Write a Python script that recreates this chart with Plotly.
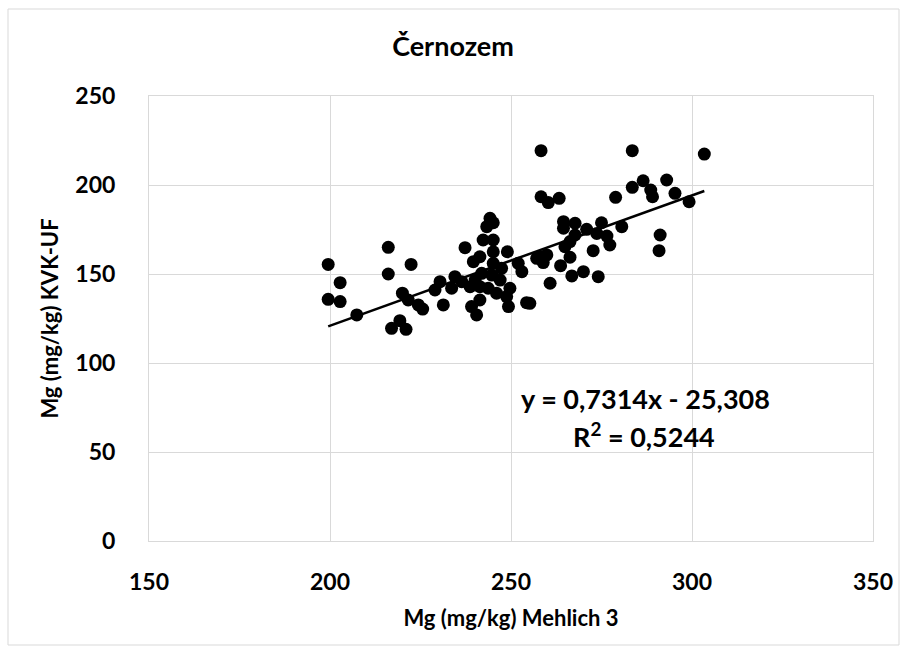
import plotly.graph_objects as go

# Data
mehlich3 = [199.5, 202.8, 199.5, 202.8, 207.4, 216.1, 216.1, 222.4, 217.0, 219.3,
            221.0, 220.0, 221.6, 224.4, 225.6,
            244.2, 245.1, 243.3, 242.3, 245.1, 237.3, 245.1, 249.0, 241.4, 239.6,
            245.1, 247.4, 252.0, 253.0, 234.5, 230.4, 229.0, 233.6, 236.4, 240.1,
            241.4, 238.7, 243.7, 246.0, 249.7, 241.4, 239.1, 240.5, 231.3, 249.3,
            248.8, 254.3, 244.7, 247.0, 241.9, 257.1,
            258.3, 283.5, 258.3, 260.3, 263.3, 278.9, 283.5, 286.5, 288.6, 289.1,
            293.0, 295.3, 291.2, 290.9, 303.4, 299.2,
            264.5, 264.5, 267.7, 270.9, 275.0, 280.6, 267.7, 273.7, 276.5, 266.3,
            277.3, 264.9, 272.7, 258.0, 259.9, 258.9, 266.3, 263.7, 266.8, 270.0,
            274.1, 260.8, 255.2]
kvk_uf = [155.4, 145.1, 135.8, 134.5, 127.0, 165.0, 150.0, 155.4, 119.5, 123.8,
          118.9, 139.2, 135.4, 132.6, 130.3,
          181.3, 178.8, 176.6, 169.1, 169.1, 164.8, 162.5, 162.5, 159.7, 156.9,
          156.0, 153.2, 156.0, 151.3, 148.5, 145.7, 141.0, 142.0, 145.7, 146.6,
          142.9, 142.9, 142.0, 139.2, 142.0, 135.4, 131.7, 127.0, 132.6, 131.7,
          137.3, 133.9, 149.4, 146.6, 150.4, 158.8,
          219.3, 219.3, 193.4, 190.1, 192.5, 193.1, 198.7, 202.4, 197.2, 193.4,
          202.8, 195.3, 171.9, 163.1, 217.4, 190.6,
          179.4, 175.7, 178.5, 175.1, 178.8, 176.6, 171.9, 172.8, 171.3, 168.2,
          166.3, 165.3, 163.1, 159.7, 160.7, 156.4, 159.4, 154.7, 148.9, 151.3,
          148.5, 144.8, 133.5]

slope = 0.7314
intercept = -25.308
r_squared = 0.5244

x_ticks = [150, 200, 250, 300, 350]
y_ticks = [0, 50, 100, 150, 200, 250]

title_text = "Černozem"
x_title = "Mg (mg/kg) Mehlich 3"
y_title = "Mg (mg/kg) KVK-UF"

FONT = "Lato, 'Open Sans', sans-serif"
GRID = "#d9d9d9"

W, H = 907, 654
L, R, T, B = 149, 34, 96, 113
PW, PH = W - L - R, H - T - B

x_line = [min(mehlich3), max(mehlich3)]
y_line = [slope * v + intercept for v in x_line]

fig = go.Figure()
fig.add_trace(go.Scatter(
    x=mehlich3, y=kvk_uf, mode="markers",
    marker=dict(color="black", size=13, line=dict(width=0)),
    showlegend=False, hoverinfo="x+y"))
fig.add_trace(go.Scatter(
    x=x_line, y=y_line, mode="lines",
    line=dict(color="black", width=2.5),
    showlegend=False, hoverinfo="skip"))

eq1 = ("y = " + f"{slope:.4f}".replace(".", ",") + "x - "
       + f"{-intercept:.3f}".replace(".", ","))
eq2 = "R<sup>2</sup> = " + f"{r_squared:.4f}".replace(".", ",")

fig.add_annotation(
    x=(645 - L) / PW, y=(H - B - 398) / PH, xref="paper", yref="paper",
    text=eq1, showarrow=False, xanchor="center", yanchor="middle",
    font=dict(family=FONT, size=27, color="black", weight="bold"))
fig.add_annotation(
    x=(644 - L) / PW, y=(H - B - 435) / PH, xref="paper", yref="paper",
    text=eq2, showarrow=False, xanchor="center", yanchor="middle",
    font=dict(family=FONT, size=27, color="black", weight="bold"))

fig.add_shape(type="rect", xref="paper", yref="paper",
              x0=(8 - L) / PW, x1=(899 - L) / PW,
              y0=(H - B - 645) / PH, y1=(H - B - 9) / PH,
              line=dict(color=GRID, width=1), fillcolor="rgba(0,0,0,0)", layer="below")

fig.update_layout(
    width=W, height=H,
    margin=dict(l=L, r=R, t=T, b=B),
    paper_bgcolor="white", plot_bgcolor="white",
    title=dict(text=title_text, x=453 / W, xanchor="center", xref="container",
               y=1 - 47 / H, yanchor="middle", yref="container",
               font=dict(family=FONT, size=27, color="black", weight="bold")),
    font=dict(family=FONT, color="black"),
    xaxis=dict(range=[150, 350], tickvals=x_ticks, showgrid=True, gridcolor=GRID,
               gridwidth=1, zeroline=False, showline=True, linecolor=GRID, mirror=True,
               ticks="", ticklabelstandoff=20,
               tickfont=dict(family=FONT, size=23, color="black", weight="bold"),
               title=dict(text=x_title, standoff=17,
                          font=dict(family=FONT, size=22, color="black", weight="bold"))),
    yaxis=dict(range=[0, 250], tickvals=y_ticks, showgrid=True, gridcolor=GRID,
               gridwidth=1, zeroline=False, showline=True, linecolor=GRID, mirror=True,
               ticks="", ticklabelstandoff=28,
               tickfont=dict(family=FONT, size=23, color="black", weight="bold"),
               title=dict(text=y_title, standoff=10,
                          font=dict(family=FONT, size=22, color="black", weight="bold"))),
)

fig.write_html("out.html", config={"displayModeBar": False},
               post_script="document.body.style.margin='0';")
